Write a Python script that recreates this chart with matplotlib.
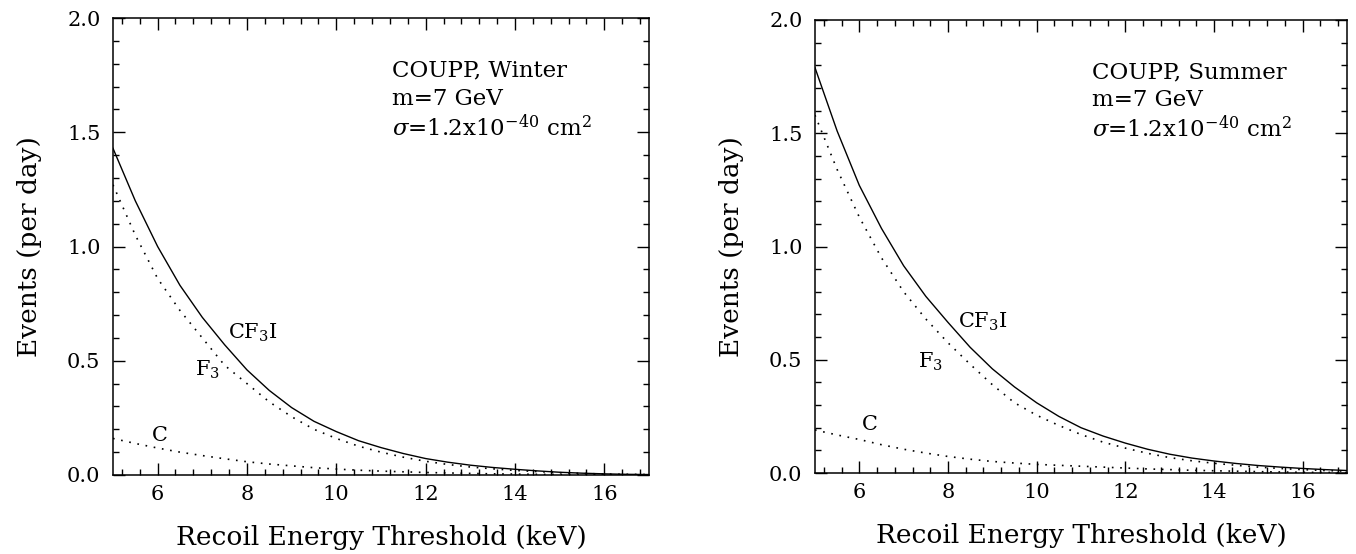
#!/usr/bin/env python3
"""
COUPP event rates vs recoil energy threshold, winter and summer.
"""

import matplotlib
matplotlib.use("Agg")
import matplotlib.pyplot as plt
from matplotlib.ticker import MultipleLocator, FormatStrFormatter

plt.rcParams['font.family'] = ['DejaVu Serif']
plt.rcParams['mathtext.fontset'] = 'dejavuserif'

# threshold energies (keV)
energy = [5.0, 5.5, 6.0, 6.5, 7.0, 7.5, 8.0, 8.5, 9.0, 9.5, 10.0, 10.5, 11.0,
          11.5, 12.0, 12.5, 13.0, 13.5, 14.0, 14.5, 15.0, 15.5, 16.0, 16.5, 17.0]

# winter rates (events per day)
winter_cf3i = [1.43, 1.20, 1.00, 0.83, 0.69, 0.57, 0.46, 0.37, 0.295, 0.235, 0.19, 0.15, 0.12,
               0.094, 0.072, 0.056, 0.043, 0.033, 0.025, 0.018, 0.012, 0.008, 0.005, 0.003, 0.002]
winter_f3 = [1.27, 1.05, 0.86, 0.72, 0.60, 0.48, 0.40, 0.32, 0.255, 0.20, 0.16, 0.126, 0.10,
             0.078, 0.060, 0.046, 0.035, 0.027, 0.020, 0.015, 0.010, 0.007, 0.004, 0.003, 0.002]
winter_c = [0.16, 0.138, 0.118, 0.10, 0.085, 0.071, 0.058, 0.048, 0.040, 0.032, 0.026, 0.021, 0.017,
            0.014, 0.011, 0.009, 0.007, 0.005, 0.004, 0.003, 0.002, 0.0015, 0.001, 0.0008, 0.0005]

# summer rates
summer_cf3i = [1.79, 1.51, 1.27, 1.08, 0.915, 0.78, 0.665, 0.555, 0.46, 0.38, 0.31, 0.25, 0.20,
               0.163, 0.132, 0.105, 0.083, 0.066, 0.053, 0.042, 0.033, 0.026, 0.020, 0.015, 0.011]
summer_f3 = [1.58, 1.34, 1.13, 0.95, 0.80, 0.68, 0.575, 0.48, 0.39, 0.31, 0.255, 0.21, 0.17,
             0.136, 0.11, 0.087, 0.068, 0.054, 0.043, 0.034, 0.026, 0.020, 0.015, 0.011, 0.008]
summer_c = [0.19, 0.168, 0.148, 0.125, 0.105, 0.088, 0.073, 0.061, 0.051, 0.044, 0.038, 0.034, 0.030,
            0.026, 0.022, 0.018, 0.015, 0.012, 0.010, 0.008, 0.006, 0.0045, 0.003, 0.0025, 0.002]

seasons = ["Winter", "Summer"]


def draw_panel(ax, cf3i, f3, c, season, lab_pos):
    ax.plot(energy, cf3i, color='black', linewidth=1.0)
    ax.plot(energy, f3, color='black', linewidth=1.2, linestyle=(0, (1, 4)))
    ax.plot(energy, c, color='black', linewidth=1.2, linestyle=(0, (1, 4)))

    ax.set_xlim(5, 17)
    ax.set_ylim(0, 2)
    ax.xaxis.set_major_locator(MultipleLocator(2))
    ax.xaxis.set_minor_locator(MultipleLocator(0.4))
    ax.yaxis.set_major_locator(MultipleLocator(0.5))
    ax.yaxis.set_minor_locator(MultipleLocator(0.1))
    ax.yaxis.set_major_formatter(FormatStrFormatter('%.1f'))
    ax.tick_params(which='both', direction='in', top=True, right=True, width=1.0)
    ax.tick_params(which='major', length=8.5, labelsize=15)
    ax.tick_params(axis='y', which='major', pad=9)
    ax.tick_params(axis='x', which='major', pad=7)
    ax.tick_params(which='minor', length=4)
    for sp in ax.spines.values():
        sp.set_linewidth(1.1)

    ax.set_xlabel('Recoil Energy Threshold (keV)', fontsize=19, labelpad=15)
    ax.set_ylabel('Events (per day)', fontsize=19, labelpad=18)

    ax.text(11.25, 1.77, f'COUPP, {season}', fontsize=16.5, va='center')
    ax.text(11.25, 1.645, 'm=7 GeV', fontsize=16.5, va='center')
    ax.text(11.25, 1.52, r'$\sigma$=1.2x10$^{-40}$ cm$^2$', fontsize=16.5, va='center')

    (xa, ya), (xb, yb), (xc, yc) = lab_pos
    ax.text(xa, ya, 'CF$_3$I', fontsize=15, va='center')
    ax.text(xb, yb, 'F$_3$', fontsize=15, va='center')
    ax.text(xc, yc, 'C', fontsize=15, va='center')


fig = plt.figure(figsize=(13.56, 5.54), dpi=100)
ax1 = fig.add_axes([0.0833, 0.1426, 0.3953, 0.8249])
ax2 = fig.add_axes([0.6010, 0.1462, 0.3924, 0.8177])

draw_panel(ax1, winter_cf3i, winter_f3, winter_c, seasons[0],
           [(7.57, 0.62), (6.84, 0.46), (5.87, 0.175)])
draw_panel(ax2, summer_cf3i, summer_f3, summer_c, seasons[1],
           [(8.23, 0.667), (7.32, 0.49), (6.06, 0.215)])

plt.savefig('out.png', dpi=100)
